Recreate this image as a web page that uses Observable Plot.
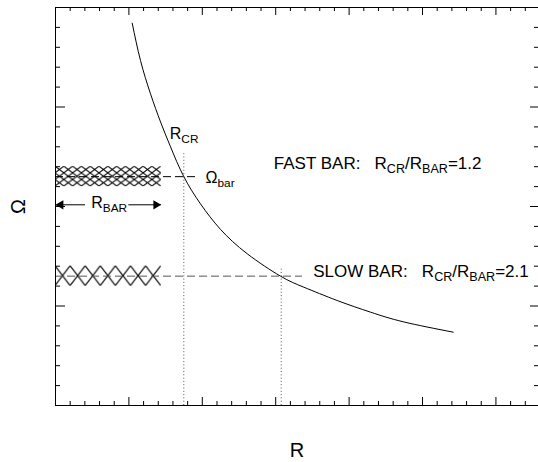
<!DOCTYPE html>
<html>
<head>
<meta charset="utf-8">
<script src="https://cdn.jsdelivr.net/npm/d3@7"></script>
<script src="https://cdn.jsdelivr.net/npm/@observablehq/plot@0.6"></script>
<style>
  html, body { margin: 0; padding: 0; background: #fff; }
  svg text { white-space: pre; }
</style>
</head>
<body>
<div id="chart"></div>
<script>
// ---- curve Ω(R) ----
const curveR     = [1.045, 1.158, 1.294, 1.431, 1.567, 1.748, 1.975, 2.248, 2.612, 3.065, 3.383, 3.838, 4.292, 4.745, 5.418];
const curveOmega = [3.842, 3.467, 3.133, 2.850, 2.600, 2.300, 2.027, 1.770, 1.525, 1.300, 1.189, 1.055, 0.938, 0.840, 0.737];

// ---- bars (fast, slow) ----
const barNames    = ["fast", "slow"];
const barLength   = [1.44, 1.44];      // R_BAR
const barOmegaLo  = [2.20, 1.20];
const barOmegaHi  = [2.40, 1.40];
const omegaBar    = [2.30, 1.30];      // pattern speed (dashed line)
const dashEnd     = [1.917, 3.365];    // where the dashed line stops
const rCR         = [1.748, 3.075];    // corotation radius (dotted line)
const dotTop      = [2.53, 1.39];      // top of the dotted line

// ---- R_BAR arrow ----
const arrowOmega = 2.017;
const arrowSegX1 = [0, 0.999];
const arrowSegX2 = [0.409, 1.44];

// ---- annotation texts ----
const labelText  = ["R_{CR}", "Ω_{bar}", "R_{BAR}", "FAST BAR:   R_{CR}/R_{BAR}=1.2", "SLOW BAR:   R_{CR}/R_{BAR}=2.1"];
const labelR     = [1.557, 2.044, 0.486, 2.974, 3.511];
const labelOmega = [2.680, 2.238, 1.987, 2.379, 1.289];
const labelSize  = [16, 16, 16, 17, 17];

// ---- axes ----
const xMax = 6.58, yMax = 4;
const xMajor = [1, 2, 3, 4, 5, 6];
const yMajor = [1, 2, 3];
const xMinor = d3.range(0.2, 6.5, 0.2).filter(v => Math.abs(v - Math.round(v)) > 1e-6);
const yMinor = d3.range(0.2, 3.9, 0.2).filter(v => Math.abs(v - Math.round(v)) > 1e-6);
const xLabel = "R", yLabel = "Ω";

const W = 538, H = 462, mL = 55, mR = 0, mT = 7, mB = 57;
const pW = W - mL - mR, pH = H - mT - mB;

const curve = curveR.map((r, i) => ({r, o: curveOmega[i]}));
const idx = barNames.map((_, i) => i);

const hatchSpec = [{id: "hatch-fast", nx: 12, ny: 3, sw: 1}, {id: "hatch-slow", nx: 7, ny: 1, sw: 1.1}];
const hatchDefs = (index, scales) => {
  const defs = d3.create("svg:defs");
  hatchSpec.forEach((s, i) => {
    const x0 = scales.x(0), x1 = scales.x(barLength[i]);
    const yT = scales.y(barOmegaHi[i]), yB = scales.y(barOmegaLo[i]);
    const w = (x1 - x0) / s.nx, h = (yB - yT) / s.ny;
    const p = defs.append("pattern").attr("id", s.id).attr("patternUnits", "userSpaceOnUse")
      .attr("x", x0).attr("y", yT).attr("width", w).attr("height", h);
    p.append("path").attr("d", `M0,0L${w},${h}M${w},0L0,${h}`)
      .attr("stroke", "#000").attr("stroke-width", s.sw).attr("fill", "none");
  });
  return defs.node();
};

const textMark = (i) => Plot.text([labelText[i]], {
  x: () => labelR[i], y: () => labelOmega[i], text: d => d,
  textAnchor: "start", lineAnchor: "bottom", fontSize: labelSize[i], fill: "#000"
});

const svg = Plot.plot({
  width: W, height: H,
  marginLeft: mL, marginRight: mR, marginTop: mT, marginBottom: mB,
  x: {domain: [0, xMax], axis: null},
  y: {domain: [0, yMax], axis: null},
  style: {fontFamily: "'Liberation Sans', Arial, Helvetica, sans-serif", background: "#fff", color: "#000"},
  marks: [
    hatchDefs,
    // hatched bars
    Plot.rect([0], {x1: 0, x2: i => barLength[i], y1: i => barOmegaLo[i], y2: i => barOmegaHi[i], fill: "url(#hatch-fast)"}),
    Plot.rect([1], {x1: 0, x2: i => barLength[i], y1: i => barOmegaLo[i], y2: i => barOmegaHi[i], fill: "url(#hatch-slow)"}),
    // dashed pattern-speed lines
    Plot.ruleY([0], {y: i => omegaBar[i], x1: 0, x2: i => dashEnd[i], stroke: "#000", strokeDasharray: "8,4"}),
    Plot.ruleY([1], {y: i => omegaBar[i], x1: 0, x2: i => dashEnd[i], stroke: "#555", strokeDasharray: "8,4"}),
    // dotted corotation lines
    Plot.ruleX(idx, {x: i => rCR[i], y1: 0, y2: i => dotTop[i], stroke: "#555", strokeDasharray: "1,2.3"}),
    // rotation curve
    Plot.line(curve, {x: "r", y: "o", curve: "natural", stroke: "#000", strokeWidth: 1}),
    // R_BAR arrow
    Plot.ruleY([0, 1], {y: () => arrowOmega, x1: i => arrowSegX1[i], x2: i => arrowSegX2[i], stroke: "#000"}),
    Plot.dot([0], {x: 0, y: () => arrowOmega, symbol: "triangle", r: 3.4, rotate: -90, dx: 5.2, fill: "#000", stroke: null}),
    Plot.dot([0], {x: () => barLength[0], y: () => arrowOmega, symbol: "triangle", r: 3.4, rotate: 90, dx: -5.2, fill: "#000", stroke: null}),
    // annotations
    ...labelText.map((_, i) => textMark(i)),
    // frame & inward ticks
    Plot.frame({stroke: "#000"}),
    Plot.tickX(xMinor, {x: d => d, insetTop: pH - 4, stroke: "#000"}),
    Plot.tickX(xMajor, {x: d => d, insetTop: pH - 8, stroke: "#000"}),
    Plot.tickX(xMinor, {x: d => d, insetBottom: pH - 4, stroke: "#000"}),
    Plot.tickX(xMajor, {x: d => d, insetBottom: pH - 8, stroke: "#000"}),
    Plot.tickY(yMinor, {y: d => d, insetRight: pW - 5, stroke: "#000"}),
    Plot.tickY(yMajor, {y: d => d, insetRight: pW - 10, stroke: "#000"}),
    Plot.tickY(yMinor, {y: d => d, insetLeft: pW - 4, stroke: "#000"}),
    Plot.tickY(yMajor, {y: d => d, insetLeft: pW - 8, stroke: "#000"}),
    // axis titles
    Plot.text([xLabel], {frameAnchor: "bottom", text: d => d, dy: 51.5, textAnchor: "middle", lineAnchor: "bottom", fontSize: 20, fill: "#000"}),
    Plot.text([yLabel], {frameAnchor: "left", text: d => d, dx: -37, rotate: -90, textAnchor: "middle", lineAnchor: "middle", fontSize: 20, fill: "#000"})
  ]
});

// subscripts: turn "_{...}" into lowered, smaller tspans
const NS = "http://www.w3.org/2000/svg";
svg.querySelectorAll("text").forEach(t => {
  const s = t.textContent;
  if (!s.includes("_{")) return;
  const parts = s.split(/(_\{[^}]*\})/).filter(p => p.length);
  t.textContent = "";
  let lowered = false;
  for (const p of parts) {
    const ts = document.createElementNS(NS, "tspan");
    if (p.startsWith("_{")) {
      ts.textContent = p.slice(2, -1);
      ts.setAttribute("font-size", "0.74em");
      if (!lowered) ts.setAttribute("dy", "4");
      lowered = true;
    } else {
      ts.textContent = p;
      if (lowered) ts.setAttribute("dy", "-4");
      lowered = false;
    }
    t.appendChild(ts);
  }
});

document.getElementById("chart").appendChild(svg);
</script>
</body>
</html>
